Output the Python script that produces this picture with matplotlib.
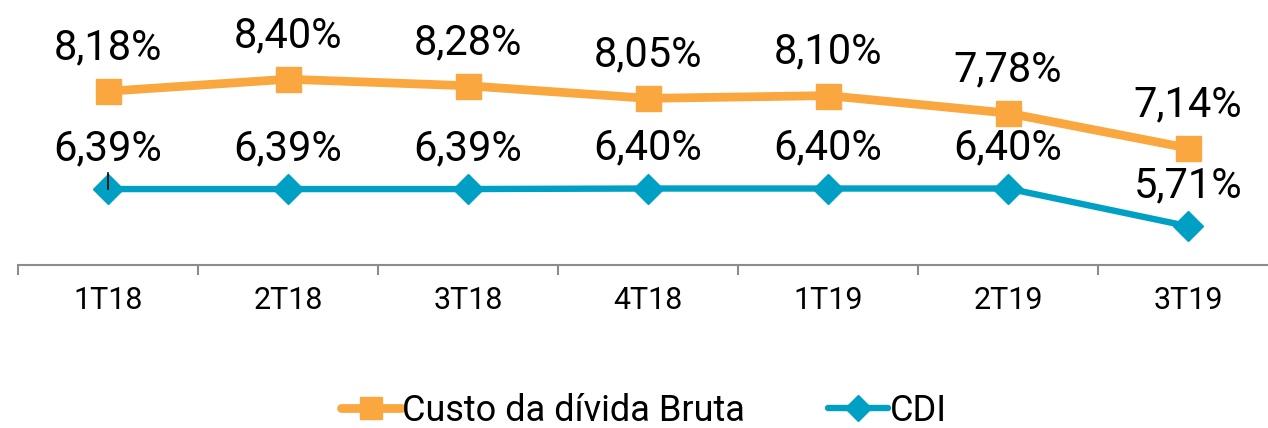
import matplotlib
matplotlib.use("Agg")
import matplotlib.pyplot as plt
from matplotlib.ticker import FixedLocator

plt.rcParams['font.family'] = ['Roboto', 'DejaVu Sans']

categories = ["1T18", "2T18", "3T18", "4T18", "1T19", "2T19", "3T19"]
custo = [8.18, 8.40, 8.28, 8.05, 8.10, 7.78, 7.14]
cdi = [6.39, 6.39, 6.39, 6.40, 6.40, 6.40, 5.71]
series_names = ["Custo da dívida Bruta", "CDI"]

orange = "#F9A73E"
blue = "#00A0C4"

W, H = 1268, 428
fig = plt.figure(figsize=(W / 100, H / 100), dpi=100)
ax = fig.add_axes([18 / W, 1 - 265 / H, 1260 / W, 265 / H])

x = list(range(len(categories)))
ax.plot(x, custo, color=orange, lw=6.3, marker='s', ms=18, mec=orange,
        solid_capstyle='round', label=series_names[0], zorder=3)
ax.plot(x, cdi, color=blue, lw=4.6, marker='D', ms=15.5, mec=blue,
        solid_capstyle='round', label=series_names[1], zorder=3)

def fmt(v):
    return f"{v:.2f}".replace('.', ',') + "%"

for xi, v in zip(x, custo):
    ax.annotate(fmt(v), (xi, v), xytext=(0, 23), textcoords='offset points',
                ha='center', va='baseline', fontsize=30, color='black')
for xi, v in zip(x, cdi):
    ax.annotate(fmt(v), (xi, v), xytext=(0, 21), textcoords='offset points',
                ha='center', va='baseline', fontsize=30, color='black')

# small leader line artifact on first CDI label
ax.plot([x[0], x[0]], [cdi[0], cdi[0] + 0.3], color='black', lw=1.2, zorder=4)

ax.set_xlim(-0.5, len(categories) - 0.5)
ax.set_ylim(5.0, 9.85)
ax.set_yticks([])
ax.set_xticks(x)
ax.set_xticklabels(categories, fontsize=22)
ax.tick_params(axis='x', which='major', length=0, pad=15)
ax.xaxis.set_minor_locator(FixedLocator([i - 0.5 for i in range(len(categories) + 1)]))
ax.tick_params(axis='x', which='minor', length=7.5, width=1.5, color='#8C8C8C', direction='out')
for s in ['top', 'right', 'left']:
    ax.spines[s].set_visible(False)
ax.spines['bottom'].set_color('#8C8C8C')
ax.spines['bottom'].set_linewidth(1.5)
ax.patch.set_visible(False)

leg = fig.legend(loc='center', bbox_to_anchor=(644 / W, 1 - 411 / H), ncol=2,
                 frameon=False, fontsize=26, handlelength=1.65, handletextpad=0.05,
                 columnspacing=2.3, markerscale=0.88)

fig.savefig("out.png", dpi=100)
